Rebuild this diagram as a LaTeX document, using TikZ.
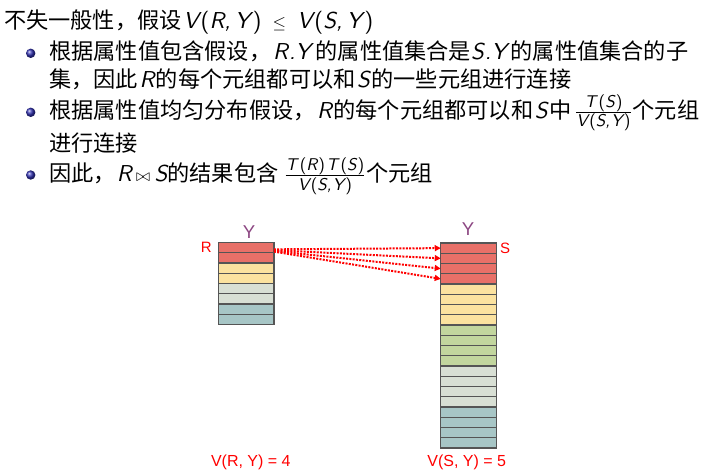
\documentclass[tikz,border=0pt]{standalone}
\usepackage{fontspec}
\newfontfamily\cjk{Noto Sans CJK SC}
\newfontfamily\lsl{lmsans10-oblique.otf}
\newfontfamily\lup{lmsans10-regular.otf}
\newfontfamily\labfont{Liberation Sans}
\usetikzlibrary{arrows.meta}
\definecolor{cr}{RGB}{232,112,104}
\definecolor{cy}{RGB}{251,226,159}
\definecolor{cg}{RGB}{216,223,212}
\definecolor{cgr}{RGB}{194,214,158}
\definecolor{ct}{RGB}{167,198,198}
\definecolor{bordc}{RGB}{85,85,85}
\definecolor{ylab}{RGB}{140,70,130}
\definecolor{beamerblue}{rgb}{0.2,0.2,0.7}
\newcommand\zh[1]{{\cjk\fontsize{22.2}{27}\selectfont #1}}
\newcommand\la[1]{{\lsl\fontsize{23}{27}\selectfont #1}}
\newcommand\up[1]{{\lup\fontsize{23}{27}\selectfont #1}}
\newcommand\lv[1]{\kern1.5pt\la{#1}\kern1.5pt}
\newcommand\sla[1]{\mbox{\lsl\fontsize{17}{18}\selectfont #1}}
\tikzset{
  txt/.style={anchor=base west,inner sep=0pt,font=\fontsize{23}{27}\selectfont},
  rowbox/.style={draw=bordc,line width=1.2pt,fill=#1,minimum width=55.5pt,minimum height=10.25pt,inner sep=0pt,outer sep=0pt},
  ylabel/.style={anchor=base,inner sep=0pt,text=ylab,font=\labfont\fontsize{18.6}{20}\selectfont},
  rslabel/.style={anchor=base,inner sep=0pt,text=red,font=\labfont\fontsize{15}{17}\selectfont},
  vlabel/.style={anchor=base,inner sep=0pt,text=red,font=\labfont\fontsize{16}{18}\selectfont},
  arr/.style={red,line width=2pt,dash pattern=on 2pt off 1.3pt,-{Triangle[length=6pt,width=6pt]}},
  bullet/.style={ball color=beamerblue}
}
\begin{document}
\begin{tikzpicture}[x=1pt,y=-1pt]
\useasboundingbox (0,0) rectangle (726,474);
% text
\node[txt] (l0) at (4,28.3) {\zh{不失一般性，假设}\kern1.5pt\la{V\kern2pt}\up{(}\la{R,\kern4pt Y\kern2.5pt}\up{)}\kern11pt{\fontsize{19}{19}\selectfont$\leq$}\kern11pt\la{V\kern2pt}\up{(}\la{S,\kern4pt Y\kern2.5pt}\up{)}};
\shade[bullet] (30.7,53.3) circle (4.7);
\node[txt] (l1) at (49,59.3) {\zh{根据属性值包含假设，}\kern2pt\la{R\kern1pt.Y\kern5pt}\zh{的属性值集合是}\la{S\kern1pt.Y\kern4pt}\zh{的属性值集合的子}};
\node[txt] (l2) at (49,87.3) {\zh{集，因此}\lv{R}\zh{的每个元组都可以和}\lv{S}\zh{的一些元组进行连接}};
\shade[bullet] (30.7,112.3) circle (4.7);
\node[txt] (l3) at (49,118.3) {\zh{根据属性值均匀分布假设，}\lv{R}\zh{的每个元组都可以和}\lv{S}\zh{中}\kern4pt$\frac{\sla{T\kern2.5pt{\lup(}S\kern1pt{\lup)}}}{\sla{V\kern1.5pt{\lup(}S,\kern1pt Y\kern1.5pt{\lup)}}}$\kern1pt\zh{个元组}};
\node[txt] (l4) at (49,151) {\zh{进行连接}};
\shade[bullet] (30.7,175) circle (4.7);
\node[txt] (l5) at (49,181.7) {\zh{因此，}\kern1pt\la{R}\kern4.5pt{\fontsize{16}{16}\selectfont$\bowtie$}\kern4.5pt\la{S}\zh{的结果包含}\kern6pt$\frac{\sla{T\kern2.5pt{\lup(}R\kern1pt{\lup)}\kern1.5pt T\kern2.5pt{\lup(}S\kern1pt{\lup)}}}{\sla{V\kern1.5pt{\lup(}S,\kern1pt Y\kern1.5pt{\lup)}}}$\kern1pt\zh{个元组}};
% R table
\foreach \c [count=\i] in {cr,cr,cy,cy,cg,cg,ct,ct}{
  \node[rowbox=\c] (r\i) at (246.15,{242.5+5.125+(\i-1)*10.25}) {};
}
% S table
\foreach \c [count=\i] in {cr,cr,cr,cr,cy,cy,cy,cy,cgr,cgr,cgr,cgr,cg,cg,cg,cg,ct,ct,ct,ct}{
  \node[rowbox=\c] (s\i) at (468.5,{243+5.125+(\i-1)*10.25}) {};
}
% labels
\node[ylabel] (yr) at (249,238.7) {Y};
\node[ylabel] (ys) at (468,235.5) {Y};
\node[rslabel] (lr) at (206.3,252) {R};
\node[rslabel] (ls) at (505,253.3) {S};
\node[vlabel] (vr) at (250.8,466) {V(R, Y) = 4};
\node[vlabel] (vs) at (466.7,466) {V(S, Y) = 5};
% arrows
\draw[arr] ([yshift=-1.7pt]r1.east) -- (s1.west);
\draw[arr] ([yshift=-2.5pt]r1.east) -- (s2.west);
\draw[arr] ([yshift=-3.3pt]r1.east) -- (s3.west);
\draw[arr] ([yshift=-4pt]r1.east) -- (s4.west);
\end{tikzpicture}
\end{document}
